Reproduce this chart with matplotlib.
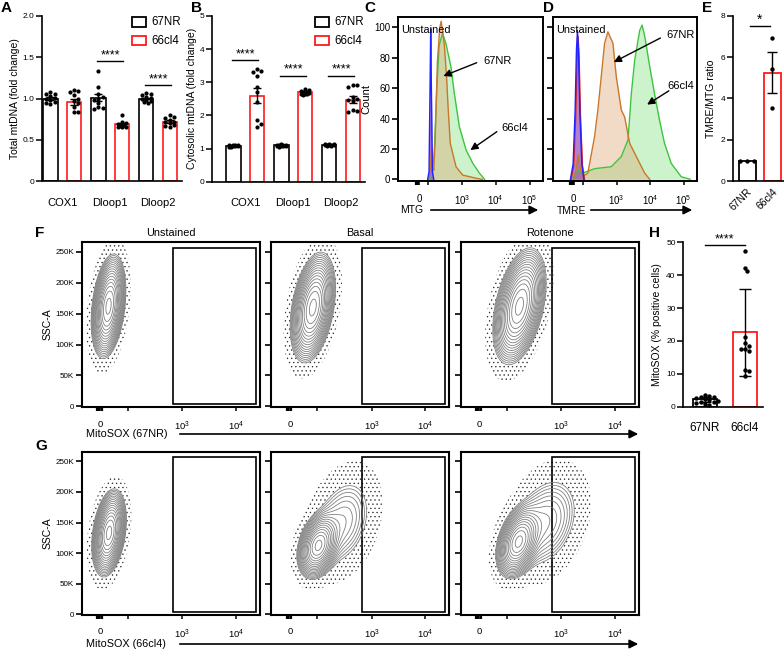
import numpy as np
import matplotlib
matplotlib.use('Agg')
import matplotlib.pyplot as plt
from matplotlib.patches import Rectangle, FancyArrowPatch

plt.rcParams['font.family'] = ['Liberation Sans', 'DejaVu Sans']
plt.rcParams['mathtext.fontset'] = 'custom'
plt.rcParams['mathtext.rm'] = 'Liberation Sans'
plt.rcParams['mathtext.it'] = 'Liberation Sans:italic'
plt.rcParams['mathtext.bf'] = 'Liberation Sans:bold'
plt.rcParams['hatch.linewidth'] = 0.45
plt.rcParams['hatch.color'] = '#303030'

# ---------------- data ----------------
genes = ['COX1', 'Dloop1', 'Dloop2']
cell_lines = ['67NR', '66cl4']

A_mean_67NR = [1.00, 1.01, 1.00]
A_sem_67NR = [0.015, 0.045, 0.012]
A_mean_66cl4 = [0.96, 0.69, 0.72]
A_sem_66cl4 = [0.035, 0.015, 0.015]
A_pts_67NR = [
    [1.08, 1.06, 1.05, 1.03, 1.01, 1.00, 0.98, 0.96, 0.95, 0.93],
    [1.33, 1.14, 1.06, 1.02, 1.00, 0.98, 0.95, 0.90, 0.88, 0.87],
    [1.07, 1.05, 1.04, 1.02, 1.01, 0.99, 0.98, 0.97, 0.96, 0.94]]
A_pts_66cl4 = [
    [1.10, 1.09, 1.08, 1.04, 1.00, 0.97, 0.90, 0.84, 0.84, 0.95],
    [0.80, 0.72, 0.70, 0.69, 0.68, 0.68, 0.67, 0.66, 0.66, 0.65],
    [0.80, 0.78, 0.76, 0.74, 0.72, 0.71, 0.70, 0.68, 0.67, 0.66]]
A_sig_group = [1, 2]
A_sig_y = [1.45, 1.16]

B_mean_67NR = [1.08, 1.10, 1.12]
B_sem_67NR = [0.01, 0.01, 0.01]
B_mean_66cl4 = [2.60, 2.70, 2.48]
B_sem_66cl4 = [0.22, 0.02, 0.10]
B_pts_67NR = [
    [1.12, 1.11, 1.10, 1.10, 1.09, 1.08, 1.08, 1.07, 1.06, 1.05],
    [1.13, 1.12, 1.11, 1.10, 1.10, 1.09, 1.08, 1.08, 1.07, 1.06],
    [1.15, 1.14, 1.13, 1.12, 1.12, 1.11, 1.10, 1.10, 1.09, 1.08]]
B_pts_66cl4 = [
    [3.40, 3.35, 3.30, 3.20, 2.85, 2.70, 2.40, 1.85, 1.75, 1.65],
    [2.80, 2.78, 2.75, 2.72, 2.70, 2.68, 2.66, 2.65, 2.64, 2.62],
    [2.93, 2.92, 2.85, 2.55, 2.50, 2.47, 2.45, 2.17, 2.12, 2.10]]
B_sig_group = [0, 1, 2]
B_sig_y = [3.66, 3.2, 3.2]

# histograms (x = display decade position, y = count)
C_unst_x = [1.98, 2.02, 2.05, 2.07, 2.09, 2.12, 2.16]
C_unst_y = [0, 5, 60, 99, 60, 5, 0]
C_67NR_x = [2.00, 2.06, 2.10, 2.13, 2.16, 2.20, 2.27, 2.34, 2.38, 2.47, 2.54, 2.59, 2.65, 2.82, 3.02, 3.42, 3.60]
C_67NR_y = [0, 8, 20, 10, 6, 24, 78, 100, 104, 89.5, 67.5, 45.6, 23.7, 8.3, 2.8, 0.7, 0]
C_66cl4_x = [2.05, 2.12, 2.18, 2.25, 2.32, 2.42, 2.52, 2.67, 2.77, 2.92, 3.12, 3.32, 3.52, 3.67]
C_66cl4_y = [0, 3, 20, 60, 88, 96, 89.5, 74, 56.6, 34.6, 19.3, 10.5, 3.9, 0]

D_unst1_x = [1.62, 1.70, 1.76, 1.80, 1.83, 1.86, 1.90, 1.96, 2.02]
D_unst1_y = [0, 10, 45, 85, 98, 85, 45, 10, 0]
D_unst2_x = [1.64, 1.72, 1.78, 1.82, 1.85, 1.88, 1.92, 1.98, 2.04]
D_unst2_y = [0, 9, 42, 80, 94, 80, 42, 9, 0]
D_67NR_x = [1.70, 1.78, 1.85, 1.92, 2.00, 2.14, 2.34, 2.44, 2.54, 2.64, 2.74, 2.89, 2.99, 3.14, 3.24, 3.39, 3.64, 3.84, 3.99]
D_67NR_y = [0, 5, 16, 6, 2, 4, 28, 45.6, 67.5, 89.5, 97, 89.5, 67.5, 45.6, 41, 23.7, 12.7, 4, 0]
D_66cl4_x = [1.72, 1.80, 1.88, 1.95, 2.10, 2.34, 2.84, 3.14, 3.34, 3.44, 3.54, 3.69, 3.76, 3.84, 3.99, 4.13, 4.28, 4.43, 4.63, 4.93, 5.20]
D_66cl4_y = [0, 5, 6, 4, 5, 7, 8.3, 15, 26, 56.6, 78.5, 98, 101.5, 94, 74, 56.6, 39, 23.7, 10.5, 1.7, 0]

E_mean = [0.95, 5.24]
E_sem = [0.0, 0.98]
E_pts_67NR = [0.95, 0.95, 0.95]
E_pts_66cl4 = [6.94, 5.40, 3.52]

# flow populations: (weight, centre position, centre SSC, sd position, sd SSC, correlation)
F_unstained = [(1.0, 1.62, 162000, 0.13, 34000, 0.30)]
F_basal = [(1.0, 1.90, 160000, 0.17, 36000, 0.35)]
F_rotenone = [(1.0, 2.22, 162000, 0.20, 38000, 0.40)]
G_unstained = [(1.0, 1.63, 133000, 0.13, 29000, 0.30)]
G_basal = [(1.0, 2.00, 112000, 0.16, 22000, 0.30), (0.5, 2.45, 150000, 0.30, 40000, 0.30)]
G_rotenone = [(1.0, 2.20, 118000, 0.17, 24000, 0.35), (0.6, 2.70, 150000, 0.33, 40000, 0.30)]
gate_x = [2.82, 4.37]
gate_y = [3500, 257000]
flow_titles = ['Unstained', 'Basal', 'Rotenone']

H_mean = [2.2, 22.6]
H_sd = [0.9, 13.3]
H_pts_67NR = [3.6, 3.3, 3.0, 2.8, 2.5, 2.2, 2.0, 1.8, 1.5, 1.3, 1.0, 0.8, 0.6]
H_pts_66cl4 = [47.4, 42.3, 41.2, 21.1, 19.3, 18.5, 17.7, 17.4, 17.0, 11.2, 10.9, 9.4]

# ---------------- layout helpers ----------------
W, Hh = 784, 652
fig = plt.figure(figsize=(W / 100, Hh / 100), dpi=100)


def ax_px(l, t, r, b):
    return fig.add_axes([l / W, 1 - b / Hh, (r - l) / W, (b - t) / Hh])


def fx(x):
    return x / W


def fy(y):
    return 1 - y / Hh


def swarm(vals, ypx, xpx, d=4.3, maxoff=6.0):
    """Deterministic beeswarm offsets (data units), confined to +-maxoff pixels."""
    vals = np.asarray(vals, float)
    order = np.argsort(-vals)
    n_c = int(maxoff // (d * 0.5))
    cands = [0.0]
    for k in range(1, n_c + 1):
        cands += [k * d * 0.5, -k * d * 0.5]
    cands = [c for c in cands if abs(c) <= maxoff + 1e-9]
    placed = []
    offs = np.zeros(len(vals))
    for i in order:
        y = vals[i] * ypx
        best, best_md = None, -1
        for x in cands:
            md = min([np.hypot(x - px, y - py) for px, py in placed] + [1e9])
            if md >= d * 0.95:
                best = x
                break
            if md > best_md:
                best_md, best_alt = md, x
        if best is None:
            best = best_alt
        placed.append((best, y))
        offs[i] = best / xpx
    return offs


def style_bar_axes(ax):
    for s in ['top', 'right']:
        ax.spines[s].set_visible(False)
    for s in ['left', 'bottom']:
        ax.spines[s].set_linewidth(1.2)
    ax.tick_params(axis='y', length=4, width=1.1, labelsize=6, pad=1.5)
    ax.tick_params(axis='x', length=0, labelsize=8, pad=12)


def letter(x, y, s):
    fig.text(fx(x), fy(y), s, fontsize=11, fontweight='bold', ha='left', va='top')


def legend_boxes(x, ys):
    for y, lab, col in zip(ys, cell_lines, ['black', '#ff1a1a']):
        fig.patches.append(Rectangle((fx(x), fy(y + 4.5)), 14 / W, 9 / Hh, transform=fig.transFigure,
                                     fill=False, edgecolor=col, lw=1.3))
        fig.text(fx(x + 19), fy(y), lab, fontsize=8.3, va='center', ha='left')


def bar_panel(ax, m1, e1, m2, e2, p1, p2, sig_g, sig_y, ypx, ylim, ytks, ylabel):
    x = np.arange(len(genes))
    w = 0.30
    off = 0.245
    ax.bar(x - off, m1, width=w, facecolor='white', edgecolor='black', lw=1.2, zorder=1)
    ax.bar(x + off, m2, width=w, facecolor='white', edgecolor='#ff1a1a', lw=1.2, zorder=1)
    for i in range(len(genes)):
        for pts, xc in [(p1[i], x[i] - off), (p2[i], x[i] + off)]:
            o = swarm(pts, ypx, 48, d=4.3, maxoff=6.0)
            ax.scatter(xc + o, pts, s=9, color='black', zorder=3, linewidths=0)
    ax.errorbar(x - off, m1, yerr=e1, fmt='none', ecolor='black', elinewidth=1, capsize=3, capthick=1, zorder=4)
    ax.errorbar(x + off, m2, yerr=e2, fmt='none', ecolor='black', elinewidth=1, capsize=3, capthick=1, zorder=4)
    for g, yv in zip(sig_g, sig_y):
        ax.plot([g - off - 0.03, g + off + 0.03], [yv, yv], color='black', lw=1)
        ax.text(g, yv, '****', ha='center', va='bottom', fontsize=9, clip_on=False)
    ax.set_ylim(*ylim)
    ax.set_yticks(ytks)
    ax.set_xticks(x)
    ax.set_xticklabels(genes)
    ax.set_ylabel(ylabel, fontsize=7.5, labelpad=2)
    style_bar_axes(ax)


# ---------------- Panel A ----------------
axA = ax_px(42, 16, 182, 181)
bar_panel(axA, A_mean_67NR, A_sem_67NR, A_mean_66cl4, A_sem_66cl4, A_pts_67NR, A_pts_66cl4,
          A_sig_group, A_sig_y, 82.5, (0, 2.0), [0, 0.5, 1.0, 1.5, 2.0], 'Total mtDNA (fold change)')
axA.set_yticklabels(['0', '0.5', '1.0', '1.5', '2.0'])
axA.set_xlim(-0.42, 2.5)
legend_boxes(132, [22, 40.5])
letter(1, 1, 'A')

# ---------------- Panel B ----------------
axB = ax_px(212, 16, 365, 181.7)
bar_panel(axB, B_mean_67NR, B_sem_67NR, B_mean_66cl4, B_sem_66cl4, B_pts_67NR, B_pts_66cl4,
          B_sig_group, B_sig_y, 33, (0, 5), [0, 1, 2, 3, 4, 5], 'Cytosolic mtDNA (fold change)')
axB.set_xlim(-0.69, 2.5)
legend_boxes(315, [22, 40.5])
letter(191, 1, 'B')

# ---------------- Panels C, D ----------------
col_or_line = '#c8782a'
col_or_fill = (0.87, 0.66, 0.47, 0.42)
col_gr_line = '#3ec43e'
col_gr_fill = (0.35, 0.85, 0.35, 0.30)


def hist_axes(ax, labels):
    ax.set_xlim(1.1, 5.4)
    ax.set_ylim(-1.1, 106.8)
    for s in ax.spines.values():
        s.set_linewidth(1.4)
    ax.set_yticks([0, 20, 40, 60, 80, 100])
    if not labels:
        ax.set_yticklabels([])
    ax.set_xticks([1.72, 1.99, 3, 4, 5])
    ax.set_xticklabels(['0', '', '$10^3$', '$10^4$', '$10^5$'])
    ax.set_xticks([1.62, 1.66, 1.70], minor=True)
    ax.tick_params(axis='y', length=4, width=1.2, labelsize=7, pad=1.5)
    ax.tick_params(axis='x', which='major', length=3, width=1.1, labelsize=7, pad=6)
    ax.tick_params(axis='x', which='minor', length=3, width=1.6)


axC = ax_px(398, 17, 543, 181)
axC.fill_between(C_66cl4_x, C_66cl4_y, color=col_gr_fill, lw=0)
axC.fill_between(C_67NR_x, C_67NR_y, color=col_or_fill, lw=0)
axC.fill_between(C_unst_x, C_unst_y, color=(0.55, 0.25, 0.85, 0.75), lw=0)
axC.plot(C_66cl4_x, C_66cl4_y, color=col_gr_line, lw=1)
axC.plot(C_67NR_x, C_67NR_y, color=col_or_line, lw=1)
axC.plot(C_unst_x, C_unst_y, color='#2222ff', lw=1)
hist_axes(axC, True)
axC.set_ylabel('Count', fontsize=8, labelpad=2)
axC.text(1.2, 98, 'Unstained', fontsize=7.8, va='center', ha='left')
axC.annotate('', xy=(2.37, 67.3), xytext=(3.51, 77.4),
             arrowprops=dict(arrowstyle='-|>', color='black', lw=1, mutation_scale=11))
axC.text(3.63, 77.8, '67NR', fontsize=8, va='center', ha='left')
axC.annotate('', xy=(3.18, 18.2), xytext=(4.10, 32.4),
             arrowprops=dict(arrowstyle='-|>', color='black', lw=1, mutation_scale=11))
axC.text(4.16, 33.7, '66cl4', fontsize=8, va='center', ha='left')
fig.text(fx(400), fy(210), 'MTG', fontsize=7.5, va='center', ha='left')
fig.patches.append(FancyArrowPatch((fx(428), fy(210)), (fx(541), fy(210)), transform=fig.transFigure,
                                   arrowstyle='-|>', mutation_scale=13, lw=1.2, color='black'))
letter(364, 1, 'C')

axD = ax_px(553, 17, 697, 181)
axD.fill_between(D_66cl4_x, D_66cl4_y, color=col_gr_fill, lw=0)
axD.fill_between(D_67NR_x, D_67NR_y, color=col_or_fill, lw=0)
axD.fill_between(D_unst2_x, D_unst2_y, color=(0.85, 0.25, 0.35, 0.45), lw=0)
axD.fill_between(D_unst1_x, D_unst1_y, color=(0.45, 0.3, 0.9, 0.45), lw=0)
axD.plot(D_66cl4_x, D_66cl4_y, color=col_gr_line, lw=1)
axD.plot(D_67NR_x, D_67NR_y, color=col_or_line, lw=1)
axD.plot(D_unst2_x, D_unst2_y, color='#e02020', lw=1)
axD.plot(D_unst1_x, D_unst1_y, color='#2222ff', lw=1)
hist_axes(axD, False)
axD.text(1.2, 98, 'Unstained', fontsize=7.8, va='center', ha='left')
axD.annotate('', xy=(2.84, 76.3), xytext=(4.38, 93.8),
             arrowprops=dict(arrowstyle='-|>', color='black', lw=1, mutation_scale=11))
axD.text(4.49, 94.9, '67NR', fontsize=8, va='center', ha='left')
axD.annotate('', xy=(3.84, 48.2), xytext=(4.63, 59.2),
             arrowprops=dict(arrowstyle='-|>', color='black', lw=1, mutation_scale=11))
axD.text(4.52, 61.4, '66cl4', fontsize=8, va='center', ha='left')
fig.text(fx(557), fy(210.5), 'TMRE', fontsize=7.5, va='center', ha='left')
fig.patches.append(FancyArrowPatch((fx(588), fy(210)), (fx(695), fy(210)), transform=fig.transFigure,
                                   arrowstyle='-|>', mutation_scale=13, lw=1.2, color='black'))
letter(543, 1, 'D')

# ---------------- Panel E ----------------
axE = ax_px(733, 15.7, 784, 181)
xE = np.arange(2)
axE.bar(xE, E_mean, width=0.68, facecolor='white', edgecolor=['black', '#ff1a1a'], lw=1.3)
for xc, pts in zip(xE, [E_pts_67NR, E_pts_66cl4]):
    axE.scatter(xc + swarm(pts, 20.66, 25, d=7, maxoff=7.5), pts, s=10, color='black', zorder=3, linewidths=0)
axE.errorbar(xE[1:], E_mean[1:], yerr=E_sem[1:], fmt='none', ecolor='black', elinewidth=1, capsize=3.5, capthick=1, zorder=4)
axE.plot([0.12, 0.92], [7.5, 7.5], color='black', lw=1)
axE.text(0.52, 7.45, '*', ha='center', va='bottom', fontsize=10)
axE.set_ylim(0, 8)
axE.set_xlim(-0.56, 1.48)
axE.set_yticks([0, 2, 4, 6, 8])
axE.set_xticks(xE)
axE.set_xticklabels(cell_lines, rotation=45, ha='right', va='top', rotation_mode='anchor')
style_bar_axes(axE)
axE.tick_params(axis='x', labelsize=7.5, pad=4)
axE.set_ylabel('TMRE/MTG ratio', fontsize=7.5, labelpad=3)
letter(702, 1, 'E')

# ---------------- Panels F, G ----------------


def density(comps, U, S):
    D = np.zeros_like(U)
    for w, mu, ms, su, ss, r in comps:
        zu = (U - mu) / su
        zs = (S - ms) / ss
        D += w / (su * ss * np.sqrt(1 - r * r)) * np.exp(-0.5 / (1 - r * r) * (zu ** 2 - 2 * r * zu * zs + zs ** 2))
    return D / D.max()


def flow_panel(ax, comps, first, title=None):
    uu = np.linspace(1.12, 4.44, 320)
    ss = np.linspace(-1500, 266000, 320)
    U, S = np.meshgrid(uu, ss)
    Dn = density(comps, U, S)
    ax.contourf(U, S, Dn, levels=[0.006, 0.045], colors='none', hatches=['....'])
    ax.contour(U, S, Dn, levels=np.geomspace(0.045, 0.93, 17), colors='#808080', linewidths=0.6)
    ax.add_patch(Rectangle((gate_x[0], gate_y[0]), gate_x[1] - gate_x[0], gate_y[1] - gate_y[0],
                           fill=False, edgecolor='black', lw=1.2))
    ax.set_xlim(1.12, 4.44)
    ax.set_ylim(-1500, 266000)
    for s in ax.spines.values():
        s.set_linewidth(1.5)
    ax.set_yticks([0, 50000, 100000, 150000, 200000, 250000])
    if first:
        ax.set_yticklabels(['0', '50K', '100K', '150K', '200K', '250K'])
        ax.set_ylabel('SSC-A', fontsize=7.5, labelpad=2)
    else:
        ax.set_yticklabels([])
    ax.set_xticks([1.47, 1.98, 3, 4])
    ax.set_xticklabels(['0', '', '$10^3$', '$10^4$'])
    ax.set_xticks([1.41, 1.44, 1.47, 1.50], minor=True)
    ax.tick_params(axis='y', length=4, width=1.2, labelsize=5.8, pad=1.5)
    ax.tick_params(axis='x', which='major', length=3, width=1.1, labelsize=6.8, pad=6)
    ax.tick_params(axis='x', which='minor', length=3, width=1.6)
    if title:
        ax.set_title(title, fontsize=7.8, pad=4)


lefts = [81.7, 271, 460.5]
f_comps = [F_unstained, F_basal, F_rotenone]
g_comps = [G_unstained, G_basal, G_rotenone]
for i in range(3):
    axf = ax_px(lefts[i], 242, lefts[i] + 178, 407.3)
    flow_panel(axf, f_comps[i], i == 0, flow_titles[i])
    axg = ax_px(lefts[i], 451.7, lefts[i] + 178, 615)
    flow_panel(axg, g_comps[i], i == 0)

fig.text(fx(86), fy(434), 'MitoSOX (67NR)', fontsize=7.8, va='center', ha='left')
fig.patches.append(FancyArrowPatch((fx(177), fy(434)), (fx(641), fy(434)), transform=fig.transFigure,
                                   arrowstyle='-|>', mutation_scale=13, lw=1.2, color='black'))
fig.text(fx(86), fy(644), 'MitoSOX (66cl4)', fontsize=7.8, va='center', ha='left')
fig.patches.append(FancyArrowPatch((fx(177), fy(644)), (fx(641), fy(644)), transform=fig.transFigure,
                                   arrowstyle='-|>', mutation_scale=13, lw=1.2, color='black'))
letter(35, 226, 'F')
letter(35, 439, 'G')

# ---------------- Panel H ----------------
axH = ax_px(683.3, 242.3, 763, 406.7)
xH = np.arange(2)
axH.bar(xH, H_mean, width=0.6, facecolor='white', edgecolor=['black', '#ff1a1a'], lw=1.3)
for xc, pts in zip(xH, [H_pts_67NR, H_pts_66cl4]):
    axH.scatter(xc + swarm(pts, 3.29, 40, d=4.3, maxoff=13), pts, s=10, color='black', zorder=3, linewidths=0)
axH.errorbar(xH, H_mean, yerr=H_sd, fmt='none', ecolor='black', elinewidth=1, capsize=4, capthick=1, zorder=4)
axH.plot([0.0, 1.0], [49.1, 49.1], color='black', lw=1, clip_on=False)
axH.text(0.5, 49.0, '****', ha='center', va='bottom', fontsize=9, clip_on=False)
axH.set_ylim(0, 50)
axH.set_xlim(-0.54, 1.45)
axH.set_yticks([0, 10, 20, 30, 40, 50])
axH.set_xticks(xH)
axH.set_xticklabels(cell_lines)
style_bar_axes(axH)
axH.tick_params(axis='x', labelsize=8.5, pad=11)
axH.set_ylabel('MitoSOX (% positive cells)', fontsize=7.5, labelpad=3)
letter(649, 226, 'H')

fig.savefig('out.png', dpi=100)
